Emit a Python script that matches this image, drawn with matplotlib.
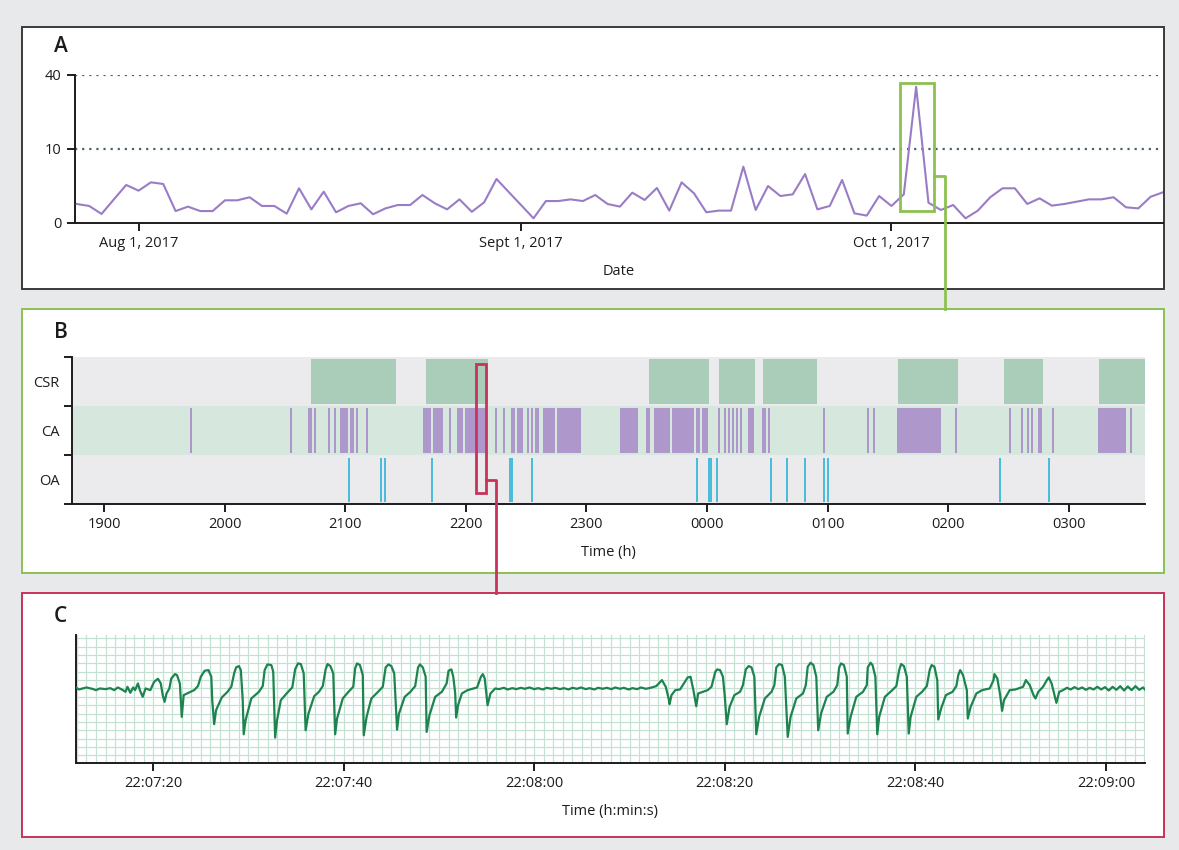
import datetime as dt

import numpy as np
import matplotlib

matplotlib.use("Agg")
import matplotlib.pyplot as plt
import matplotlib.dates as mdates
from matplotlib.lines import Line2D
from matplotlib.patches import Rectangle
from matplotlib.ticker import FixedLocator, MultipleLocator

plt.rcParams["font.family"] = ["Open Sans", "DejaVu Sans"]

# ---------------------------------------------------------------- panel A data
# one value per night, starting 27 July 2017
A_START = dt.date(2017, 7, 27)
A_VALUES = [
    0.66, 0.53, 0.15, 1.02, 2.64, 1.91, 3.02, 2.78, 0.26, 0.49,
    0.26, 0.26, 0.94, 0.94, 1.21, 0.53, 0.53, 0.16, 2.20, 0.34,
    1.79, 0.21, 0.53, 0.71, 0.14, 0.39, 0.59, 0.59, 1.43, 0.71,
    0.34, 1.02, 0.23, 0.78, 3.54, 1.74, 0.58, 0.04, 0.88, 0.88,
    1.02, 0.88, 1.43, 0.66, 0.49, 1.68, 0.97, 2.24, 0.28, 3.02,
    1.61, 0.21, 0.28, 0.28, 5.79, 0.31, 2.50, 1.33, 1.50, 4.38,
    0.34, 0.53, 3.38, 0.17, 0.10, 1.33, 0.53, 1.50, 33.9, 0.75,
    0.31, 0.59, 0.04, 0.28, 1.21, 2.20, 2.20, 0.66, 1.11, 0.55,
    0.66, 0.83, 1.02, 1.02, 1.21, 0.45, 0.39, 1.26, 1.72,
]
A_THRESHOLDS = [10, 40]
A_YTICKS = [0, 10, 40]
A_XTICKS = [dt.date(2017, 8, 1), dt.date(2017, 9, 1), dt.date(2017, 10, 1)]
A_XTICKLABELS = ["Aug 1, 2017", "Sept 1, 2017", "Oct 1, 2017"]
A_HIGHLIGHT = (dt.datetime(2017, 10, 1, 17), dt.datetime(2017, 10, 4, 10), 0.28, 36.0)

# ---------------------------------------------------------------- panel B data
B_CSR = [
    ("20:43", "21:25"), ("21:40", "22:11"), ("23:31", "00:01"), ("00:06", "00:24"),
    ("00:28", "00:55"), ("01:35", "02:05"), ("02:28", "02:47"), ("03:15", "03:38"),
]
B_CA = [
    "19:43",
    "20:33", "20:42", "20:43", "20:45", "20:52", "20:55", "20:58", "20:59", "21:00",
    "21:01", "21:03", "21:04", "21:06", "21:11",
    "21:39", "21:40", "21:41", "21:42", "21:44", "21:45", "21:46", "21:47", "21:48",
    "21:52",
    "21:56", "21:57", "21:58", "22:00", "22:01", "22:02", "22:03", "22:04",
    "22:05", "22:06", "22:07", "22:08", "22:09", "22:10",
    "22:15", "22:19", "22:23", "22:24", "22:26", "22:27", "22:28",
    "22:31", "22:33", "22:35", "22:36",
    "22:39", "22:40", "22:41", "22:42", "22:43", "22:44", "22:46", "22:47",
    "22:48", "22:49", "22:50", "22:51", "22:52", "22:53", "22:54", "22:55", "22:56",
    "22:57",
    "23:17", "23:18", "23:19", "23:20", "23:21", "23:22", "23:23", "23:24", "23:25",
    "23:30", "23:31",
    "23:34", "23:35", "23:36", "23:37", "23:38", "23:39", "23:40", "23:41",
    "23:43", "23:44", "23:45", "23:46", "23:47", "23:48", "23:49", "23:50", "23:51",
    "23:52", "23:53",
    "23:55", "23:56", "23:58", "23:59", "00:00",
    "00:06", "00:09", "00:11", "00:13", "00:15", "00:17",
    "00:21", "00:22", "00:23", "00:28", "00:29", "00:31",
    "00:58", "01:20", "01:23",
    "01:35", "01:36", "01:37", "01:38", "01:39", "01:40", "01:41", "01:42", "01:43",
    "01:44", "01:45", "01:46", "01:47", "01:48", "01:49", "01:50", "01:51", "01:52",
    "01:53", "01:54", "01:55", "01:56",
    "02:04", "02:31", "02:37", "02:40", "02:42", "02:45", "02:46", "02:52",
    "03:15", "03:16", "03:17", "03:18", "03:19", "03:20", "03:21", "03:22", "03:23",
    "03:24", "03:25", "03:26", "03:27", "03:28",
    "03:31",
]
B_OA = [
    "21:02", "21:18", "21:20", "21:43", "22:22", "22:23", "22:33", "23:55", "00:01",
    "00:02", "00:05", "00:32", "00:40", "00:49", "00:58", "01:00", "02:26", "02:50",
]
B_ROWS = ["OA", "CA", "CSR"]
B_XTICKS = ["1900", "2000", "2100", "2200", "2300", "0000", "0100", "0200", "0300"]
B_RANGE = ("18:44", "03:38")
B_HIGHLIGHT = ("22:05", "22:10")

# ---------------------------------------------------------------- panel C data
# seconds after 22:07:00, respiratory signal (arbitrary units)
C_TIME_S = [
    11.9, 12.2, 12.6, 13.0, 13.6, 14.0, 14.4, 15.0, 15.5, 15.9, 16.3, 16.7, 17.1, 17.3,
    17.6, 17.9, 18.1, 18.4, 18.6, 18.9, 19.2, 19.7, 20.1, 20.5, 20.8, 21.0, 21.2, 21.4,
    21.7, 21.9, 22.3, 22.5, 22.8, 23.0, 23.2, 23.7, 24.3, 24.7, 25.0, 25.4, 25.8, 26.1,
    26.2, 26.4, 26.6, 27.2, 27.8, 28.2, 28.5, 28.7, 29.0, 29.2, 29.4, 29.5, 29.7, 30.3,
    31.1, 31.5, 31.7, 32.0, 32.4, 32.6, 32.8, 33.0, 33.4, 34.0, 34.6, 34.9, 35.2, 35.5,
    35.8, 36.0, 36.3, 36.9, 37.4, 37.8, 38.1, 38.3, 38.6, 38.9, 39.1, 39.3, 39.9, 40.5,
    41.0, 41.2, 41.4, 41.7, 42.0, 42.1, 42.4, 42.9, 43.5, 44.1, 44.4, 44.7, 45.0, 45.3,
    45.6, 45.8, 46.4, 47.0, 47.5, 47.8, 48.0, 48.3, 48.6, 48.7, 49.0, 49.6, 50.3, 50.8,
    51.0, 51.3, 51.5, 51.7, 51.8, 52.0, 52.4, 53.0, 54.0, 54.4, 54.6, 54.8, 55.0, 55.1,
    55.4, 55.9,
    56.3, 56.8, 57.2, 57.7, 58.1, 58.6, 59.0, 59.5, 60.0, 60.4, 60.9, 61.3, 61.8, 62.2,
    62.7, 63.1, 63.6, 64.0, 64.5, 64.9, 65.4, 65.8, 66.3, 66.7, 67.2, 67.6, 68.1, 68.5,
    69.0, 69.4, 69.9, 70.3, 70.8, 71.2, 71.7, 72.2,
    72.8, 73.4, 73.8, 74.1, 74.2, 74.4, 74.8, 75.3, 75.7, 76.1, 76.4, 76.7, 77.0, 77.2,
    77.7, 78.2, 78.6, 79.0, 79.2, 79.5, 79.8, 80.0, 80.2, 80.5, 81.0, 81.6, 81.9, 82.2,
    82.5, 82.8, 83.1, 83.3, 83.6, 84.2, 84.9, 85.2, 85.4, 85.7, 86.0, 86.3, 86.6, 86.9,
    87.5, 88.2, 88.5, 88.7, 89.0, 89.3, 89.6, 89.8, 90.1, 90.7, 91.4, 91.8, 92.0, 92.2,
    92.5, 92.8, 92.9, 93.2, 93.8, 94.5, 94.9, 95.0, 95.3, 95.5, 95.8, 96.0, 96.2, 96.8,
    97.5, 98.0, 98.3, 98.5, 98.8, 99.1, 99.3, 99.5, 100.1, 100.7, 101.2, 101.5, 101.7,
    102.0, 102.3, 102.4, 102.7, 103.2, 103.9, 104.3, 104.5, 104.7, 105.0, 105.4, 105.5,
    105.8, 106.4, 107.0, 107.8, 108.2, 108.3, 108.6, 108.9, 109.1, 109.3, 109.9, 110.5,
    111.3, 111.6, 112.0, 112.4, 112.6, 112.9, 113.4, 113.8, 114.0, 114.3, 114.6, 114.8,
    115.1, 115.5,
    115.9, 116.3, 116.7, 117.1, 117.5, 117.9, 118.3, 118.7, 119.1, 119.5, 119.9, 120.3,
    120.7, 121.1, 121.5, 121.9, 122.3, 122.7, 123.1, 123.5, 123.9, 124.1,
]
C_SIGNAL = [
    0.3, -0.3, 0.0, 0.3, -0.1, -0.5, 0.0, -0.2, 0.1, -0.5, 0.3, -0.3, -1.0, 0.5,
    -1.3, 0.3, -0.5, 1.5, -0.5, -2.5, 0.0, -0.5, 2.0, 2.9, 1.5, -2.0, -4.0, -1.5,
    0.0, 3.0, 4.3, 4.0, 1.5, -8.5, -2.0, -1.3, -0.5, 0.7, 3.5, 5.3, 5.5, 3.5,
    -3.5, -10.7, -6.5, -2.7, -1.0, 0.5, 4.5, 6.3, 6.7, 5.5, -3.5, -13.7, -9.5, -3.0,
    -1.0, 0.7, 5.5, 7.2, 7.0, 5.0, -14.7, -9.5, -3.5, -1.5, 0.3, 5.7, 7.5, 7.3,
    4.5, -12.5, -7.5, -2.3, -1.0, 0.7, 5.7, 7.3, 6.7, 4.5, -13.7, -9.0, -3.0, -1.0,
    0.5, 6.0, 7.5, 7.0, 4.0, -14.0, -8.5, -3.0, -1.3, 0.5, 6.3, 7.2, 6.7, 4.5,
    -12.3, -7.5, -2.5, -1.0, 0.7, 6.3, 7.2, 6.3, 3.5, -13.0, -8.0, -2.5, -1.0, 1.5,
    5.3, 5.7, 3.5, -1.5, -8.7, -5.0, -1.5, -0.5, 0.3, 3.5, 4.3, 3.0, -2.5, -5.0,
    -1.5, 0.0,
    -0.2, 0.2, -0.3, 0.1, -0.2, 0.2, -0.1, 0.3, -0.2, 0.1, -0.3, 0.2, -0.1, 0.2,
    -0.2, 0.1, -0.3, 0.2, -0.1, 0.3, -0.2, 0.1, -0.3, 0.2, -0.1, 0.2, -0.2, 0.3,
    -0.1, 0.2, -0.3, 0.1, -0.2, 0.3, -0.1, 0.2,
    0.7, 2.5, 0.5, -3.0, -4.7, -2.0, -0.5, -0.3, 1.5, 3.3, 3.5, -0.5, -5.3, -1.5,
    -1.0, -0.5, 0.5, 5.0, 5.7, 5.5, 3.5, -2.5, -10.7, -5.5, -2.0, -1.0, 1.0, 5.7,
    6.7, 6.3, 3.5, -13.7, -8.5, -3.0, -1.0, 1.0, 6.3, 7.3, 7.0, 3.5, -14.5, -8.5,
    -3.0, -1.5, 1.0, 6.5, 7.7, 7.0, 3.5, -12.5, -7.5, -2.5, -1.0, 1.0, 6.3, 7.5,
    7.0, 3.5, -13.5, -8.5, -2.5, -1.0, 1.0, 6.3, 7.7, 7.0, 3.5, -13.7, -8.5, -2.5,
    -0.7, 0.7, 5.5, 7.3, 6.7, 3.5, -13.5, -8.5, -2.5, -1.0, 0.7, 5.5, 7.0,
    6.5, 2.5, -9.3, -6.0, -2.0, -1.0, 0.7, 4.0, 5.5, 4.0, -0.5, -9.0,
    -5.5, -1.5, -0.5, 0.0, 2.5, 4.3, 3.0, -2.0, -6.7, -3.5, -0.5, -0.3,
    0.5, 2.5, 1.0, -2.0, -3.0, -1.0, 0.5, 2.5, 3.3, 1.5, -2.0, -4.3,
    -1.0, -0.5,
    0.2, -0.3, 0.4, -0.2, 0.3, -0.4, 0.2, -0.3, 0.5, -0.3, 0.4, -0.6,
    0.5, -0.4, 0.7, -0.6, 0.6, -0.5, 0.7, -0.4, 0.3, -0.3,
]
C_XTICKS = [20, 40, 60, 80, 100, 120]
C_XTICKLABELS = ["22:07:20", "22:07:40", "22:08:00", "22:08:20", "22:08:40", "22:09:00"]

# ---------------------------------------------------------------- styling
W, H = 1179, 850
BG = "#e8e9eb"
TEXT = "#1e1b1c"
PURPLE = "#9a7cc6"
CA_PURPLE = "#9563c0"
OA_CYAN = "#2bb3d6"
CSR_GREEN = "#a9cdb9"
BAND_GREY = "#ebebed"
BAND_GREEN = "#d6e8dd"
FRAME_A = "#3a3a3a"
FRAME_B = "#8cc152"
FRAME_C = "#c9325a"
TRACE = "#1d8450"
GRID_C = "#c4e1d2"
FS = 10.5


def px_box(x0, y0, x1, y1):
    return [x0 / W, 1 - y1 / H, (x1 - x0) / W, (y1 - y0) / H]


def clock_hours(text):
    hh, mm = text.split(":")
    h = int(hh) + int(mm) / 60
    return h + 24 if h < 12 else h


def to_fig(fig, ax, x, y):
    disp = ax.transData.transform((x, y))
    return fig.transFigure.inverted().transform(disp)


def style_axes(ax):
    ax.set_facecolor("none")
    for side in ("top", "right"):
        ax.spines[side].set_visible(False)
    for side in ("left", "bottom"):
        ax.spines[side].set_color(TEXT)
        ax.spines[side].set_linewidth(1.4)
    ax.tick_params(colors=TEXT, labelsize=FS, width=1.4, length=6)


fig = plt.figure(figsize=(W / 100, H / 100), dpi=100, facecolor=BG)

frames = {
    "A": (px_box(22, 27, 1164, 289), FRAME_A),
    "B": (px_box(22, 309, 1164, 573), FRAME_B),
    "C": (px_box(22, 593, 1164, 837), FRAME_C),
}
for key, (box, color) in frames.items():
    fig.add_artist(Rectangle((box[0], box[1]), box[2], box[3], transform=fig.transFigure,
                             facecolor="white", edgecolor=color, lw=1.4, zorder=-5))

# ---------------------------------------------------------------- panel A
ax_a = fig.add_axes(px_box(75, 75, 1163, 223))
style_axes(ax_a)
a_dates = [A_START + dt.timedelta(days=i) for i in range(len(A_VALUES))]
a_num = mdates.date2num(a_dates)
ax_a.set_yscale("function", functions=(lambda v: np.sqrt(np.clip(v, 0, None)), np.square))
ax_a.plot(a_num, A_VALUES, color=PURPLE, lw=1.5, zorder=3)
for level in A_THRESHOLDS:
    ax_a.axhline(level, color="#48666f", lw=1.6, ls=(0, (1.0, 2.2)), zorder=1)
ax_a.set_xlim(a_num[0] - 0.15, a_num[-1])
ax_a.set_ylim(0, 40)
ax_a.yaxis.set_major_locator(FixedLocator(A_YTICKS))
ax_a.yaxis.set_minor_locator(FixedLocator([]))
ax_a.set_yticklabels([str(t) for t in A_YTICKS])
ax_a.set_xticks(mdates.date2num(A_XTICKS))
ax_a.set_xticklabels(A_XTICKLABELS)
ax_a.set_xlabel("Date", fontsize=FS, color=TEXT, labelpad=9)

hx0, hx1, hy0, hy1 = A_HIGHLIGHT
hx0, hx1 = mdates.date2num(hx0), mdates.date2num(hx1)
ax_a.add_patch(Rectangle((hx0, hy0), hx1 - hx0, hy1 - hy0, fill=False,
                         edgecolor=FRAME_B, lw=2, clip_on=False, zorder=4))

# ---------------------------------------------------------------- panel B
ax_b = fig.add_axes(px_box(72, 357, 1145, 504))
style_axes(ax_b)
b_x0, b_x1 = clock_hours(B_RANGE[0]), clock_hours(B_RANGE[1])
ax_b.set_xlim(b_x0, b_x1)
ax_b.set_ylim(0, 3)
for row, color in zip(range(3), [BAND_GREY, BAND_GREEN, BAND_GREY]):
    ax_b.axhspan(row, row + 1, color=color, lw=0, zorder=0)
ax_b.broken_barh([(clock_hours(s), clock_hours(e) - clock_hours(s)) for s, e in B_CSR],
                 (2.05, 0.9), facecolors=CSR_GREEN, zorder=1)
ax_b.vlines([clock_hours(t) for t in B_CA], 1.05, 1.95, colors=CA_PURPLE, lw=1.2,
            alpha=0.72, zorder=2)
ax_b.vlines([clock_hours(t) for t in B_OA], 0.05, 0.93, colors=OA_CYAN, lw=1.2, zorder=2)
ax_b.set_yticks([0, 1, 2, 3])
ax_b.set_yticklabels([])
ax_b.set_yticks([0.5, 1.5, 2.5], minor=True)
ax_b.set_yticklabels(B_ROWS, minor=True)
ax_b.tick_params(axis="y", which="minor", length=0, labelsize=FS, colors=TEXT, pad=9)
ax_b.set_xticks([19 + i for i in range(len(B_XTICKS))])
ax_b.set_xticklabels(B_XTICKS)
ax_b.set_xlabel("Time (h)", fontsize=FS, color=TEXT, labelpad=9)

rb0, rb1 = clock_hours(B_HIGHLIGHT[0]), clock_hours(B_HIGHLIGHT[1])
ax_b.add_patch(Rectangle((rb0, 0.23), rb1 - rb0, 2.63, fill=False, edgecolor=FRAME_C,
                         lw=2, clip_on=False, zorder=4))

# ---------------------------------------------------------------- panel C
ax_c = fig.add_axes(px_box(76, 635, 1145, 763))
style_axes(ax_c)
ax_c.plot(C_TIME_S, C_SIGNAL, color=TRACE, lw=1.6, zorder=3)
ax_c.set_xlim(C_TIME_S[0], C_TIME_S[-1])
ax_c.set_ylim(-22.3, 16)
ax_c.set_xticks(C_XTICKS)
ax_c.set_xticklabels(C_XTICKLABELS)
ax_c.xaxis.set_minor_locator(MultipleLocator(1))
ax_c.yaxis.set_major_locator(MultipleLocator(2.5))
ax_c.tick_params(axis="y", length=0, labelleft=False)
ax_c.tick_params(axis="x", which="minor", length=0)
ax_c.grid(True, which="both", color=GRID_C, lw=0.9, zorder=0)
ax_c.set_axisbelow(True)
ax_c.set_xlabel("Time (h:min:s)", fontsize=FS, color=TEXT, labelpad=9)

# ---------------------------------------------------------------- labels & links
for key, y in (("A", 47), ("B", 332), ("C", 616)):
    fig.text(54 / W, 1 - y / H, key, fontsize=15, color=TEXT, va="center", ha="left",
             fontweight="semibold")

frame_b_top = frames["B"][0][1] + frames["B"][0][3]
frame_c_top = frames["C"][0][1] + frames["C"][0][3]

p0 = to_fig(fig, ax_a, hx1, 4.1)
p1 = to_fig(fig, ax_a, hx1 + 0.9, 4.1)
fig.add_artist(Line2D([p0[0], p1[0], p1[0]], [p0[1], p1[1], frame_b_top],
                      transform=fig.transFigure, color=FRAME_B, lw=2))

q0 = to_fig(fig, ax_b, rb1, 0.5)
q1 = to_fig(fig, ax_b, clock_hours("22:15"), 0.5)
fig.add_artist(Line2D([q0[0], q1[0], q1[0]], [q0[1], q1[1], frame_c_top],
                      transform=fig.transFigure, color=FRAME_C, lw=2))

fig.savefig("out.png", dpi=100, facecolor=BG)
